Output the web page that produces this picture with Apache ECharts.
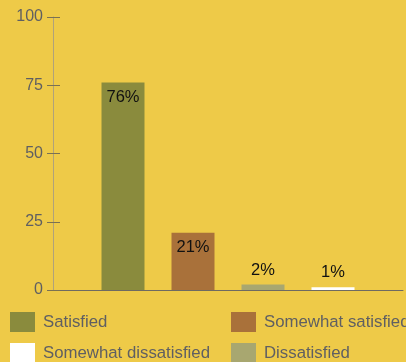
<!DOCTYPE html>
<html>
<head>
<meta charset="utf-8">
<script src="https://cdn.jsdelivr.net/npm/echarts@6/dist/echarts.min.js"></script>
<style>
  html, body { margin: 0; padding: 0; background: #EECA48; }
  #chart { width: 406px; height: 362px; }
</style>
</head>
<body>
<div id="chart"></div>
<script>
// Survey responses, one bar per answer
const answers = ['Satisfied', 'Somewhat satisfied', 'Dissatisfied', 'Somewhat dissatisfied'];
const shares = [76, 21, 2, 1];
const slots = [1, 2, 3, 4];
const barColors = ['#8A8B3D', '#A9713A', '#A8A770', '#FFFFFF'];
const yTicks = [0, 25, 50, 75, 100];
// legend entries in reading order, two per row
const legendOrder = ['Satisfied', 'Somewhat satisfied', 'Somewhat dissatisfied', 'Dissatisfied'];

const font = '"Liberation Sans", Arial, Helvetica, sans-serif';

const series = answers.map((name, i) => ({
  name: name,
  type: 'bar',
  barWidth: 43,
  barGap: '-100%',
  itemStyle: { color: barColors[i] },
  data: [[slots[i], shares[i]]],
  label: {
    show: true,
    position: shares[i] > 10 ? 'insideTop' : 'top',
    distance: 6,
    color: '#111',
    fontFamily: font,
    fontSize: 16.5,
    formatter: p => p.value[1] + '%'
  },
  emphasis: { disabled: true }
}));

const legends = legendOrder.map((name, i) => ({
  left: i % 2 === 0 ? 10 : 231,
  top: i < 2 ? 312 : 343,
  padding: 0,
  itemWidth: 25,
  itemHeight: 20,
  icon: 'rect',
  selectedMode: false,
  data: [name],
  textStyle: { color: '#5F5F62', fontFamily: font, fontSize: 16.8, padding: [0, 0, 0, 3] }
}));

const chart = echarts.init(document.getElementById('chart'));
chart.setOption({
  backgroundColor: '#EECA48',
  animation: false,
  grid: { left: 53, right: 3, top: 17, bottom: 72 },
  xAxis: {
    type: 'value',
    min: 0,
    max: 5,
    axisLine: { show: true, lineStyle: { color: '#6E6A62', width: 1 } },
    axisTick: { show: false },
    axisLabel: { show: false },
    splitLine: { show: false }
  },
  yAxis: [
    {
      type: 'value',
      min: yTicks[0],
      max: yTicks[yTicks.length - 1],
      interval: 25,
      axisLine: { show: true, lineStyle: { color: '#B0A27A', width: 1 } },
      axisTick: { show: true, length: 6, lineStyle: { color: '#7A7152' } },
      axisLabel: { color: '#5F5F62', fontFamily: font, fontSize: 16, margin: 10 },
      splitLine: { show: false }
    },
    {
      // inner half of the cross ticks
      type: 'value',
      position: 'left',
      min: yTicks[0],
      max: yTicks[yTicks.length - 1],
      interval: 25,
      axisLine: { show: false },
      axisTick: { show: true, inside: true, length: 7, lineStyle: { color: '#7A7152' } },
      axisLabel: { show: false },
      splitLine: { show: false }
    }
  ],
  legend: legends,
  series: series
});
</script>
</body>
</html>
